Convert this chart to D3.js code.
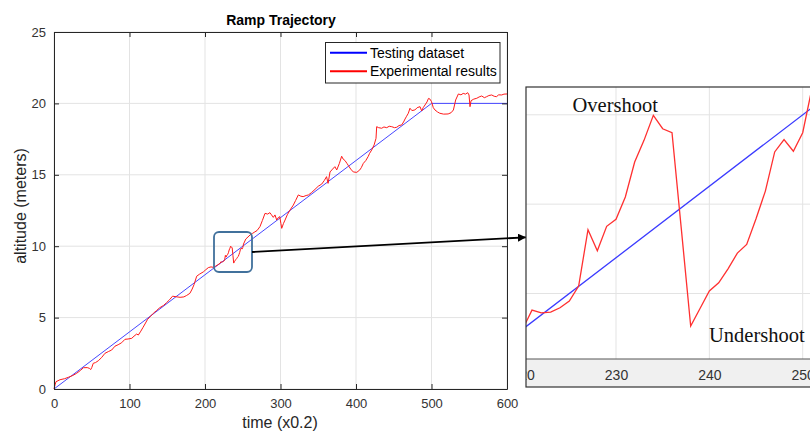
<!DOCTYPE html>
<html>
<head>
<meta charset="utf-8">
<script src="https://cdn.jsdelivr.net/npm/d3@7"></script>
<style>
  body { margin: 0; background: #fff; }
  svg { display: block; font-family: "Liberation Sans", Arial, sans-serif; }
</style>
</head>
<body>
<script>
const width = 810;
const height = 433;

// testing dataset (ramp reference)
const testTime = [0, 500, 600];
const testAlt = [0, 20, 20];

const expTime = [0, 1.5, 2.6, 8, 14, 19, 25, 30, 35, 39, 44, 46.8, 48.6, 50, 52, 55, 58.7, 63, 67.5, 72, 76.4, 80.8, 85, 89.6, 94, 98,
  103, 106, 109.5, 111.7, 115, 118, 124, 128, 131.5, 136, 140, 145, 149, 153, 157, 161.6, 167, 172, 175.7, 180, 183, 185.4, 189, 193,
  197.8, 201, 204.4, 208, 211, 214, 217,
  220, 221, 222, 223, 224, 225, 226, 227, 228, 229, 230, 231, 232, 233, 234, 235, 236, 237, 238, 239, 240, 241, 242, 243, 244, 245,
  246, 247, 248, 249, 250, 251,
  254, 259.6, 263, 266, 269, 272.8, 276, 279.5, 283, 286, 288, 290.5, 292.7, 295, 297, 299, 300.5, 301.6, 304, 306, 309, 312.6, 317,
  320, 323.6, 327, 330, 334, 337, 341, 345.7, 350, 354.6, 358, 361, 363, 365.6, 369, 372, 374.5, 378, 381, 383, 385.4, 388, 390, 393,
  396.4, 401, 405, 407, 409.7, 413, 416, 418, 420.8, 424, 426.5, 427.4, 430, 434, 437, 440.7, 444, 447.3, 451, 454, 457, 460.5, 463,
  465, 467, 469.3, 471.5, 474, 478, 481, 484.8, 487, 489, 491.4, 494, 496, 498, 500, 502.4, 504.6, 508, 511, 516, 522, 526, 529, 532,
  535.6, 539, 542, 545, 548, 549.7, 551, 552.4, 556, 560, 563, 566.5, 570, 573, 576, 579.7, 583, 586, 589, 593, 596, 600];
const expAlt = [0, 0.3, 0.51, 0.65, 0.72, 0.82, 0.95, 1.1, 1.3, 1.49, 1.5, 1.45, 1.36, 1.5, 1.8, 1.85, 1.98, 2.2, 2.5, 2.62, 2.73, 3.0, 3.1, 3.24, 3.48, 3.5,
  3.55, 3.7, 3.85, 3.78, 4.05, 4.32, 4.88, 5.1, 5.3, 5.5, 5.69, 5.85, 6.04, 6.25, 6.5, 6.46, 6.42, 6.45, 6.55, 6.7, 7.0, 7.3, 7.9, 8.05,
  8.2, 8.35, 8.5, 8.55, 8.52, 8.6, 8.7,
  8.8, 8.907, 8.892, 8.896, 8.92, 8.958, 9.042, 9.357, 9.239, 9.376, 9.415, 9.54, 9.736, 9.857, 9.997, 9.922, 9.9, 9.36, 8.818, 8.916, 9.014, 9.06, 9.138, 9.226, 9.275, 9.418,
  9.573, 9.792, 9.861, 9.796, 9.9, 10.15,
  10.5, 10.78, 10.9, 11.0, 11.1, 11.37, 11.8, 12.3, 12.25, 12.35, 12.2, 12.02, 12.19, 11.83, 12.0, 12.07, 11.6, 11.25, 11.6, 11.83, 12.2, 12.53, 12.88,
  13.2, 13.59, 13.5, 13.47, 13.55, 13.59, 13.75, 13.98, 14.2, 14.35, 14.6, 14.87, 14.4, 15.2, 15.4, 15.57, 15.34, 15.8, 16.3, 16.1, 16.0, 15.8, 15.64, 15.4,
  15.2, 15.17, 15.34, 15.5, 15.8, 16.0, 16.27, 16.5, 16.74, 17.09, 17.55, 18.37, 18.3, 18.26, 18.35, 18.3, 18.4, 18.37, 18.3, 18.33, 18.45, 18.49, 18.7,
  18.91, 19.1, 19.31, 19.66, 19.5, 19.54, 19.7, 19.77, 19.47, 19.7, 19.89, 20.1, 20.35, 20.3, 20.12, 19.7, 19.54, 19.4, 19.31, 19.25, 19.26, 19.35, 19.54, 20.24,
  20.66, 20.6, 20.7, 20.65, 20.75, 20.59, 19.77, 20.19, 20.3, 20.36, 20.45, 20.52, 20.4, 20.47, 20.55, 20.59, 20.5, 20.47, 20.6, 20.59, 20.65, 20.66];

const xTicks = [0, 100, 200, 300, 400, 500, 600];
const yTicks = [0, 5, 10, 15, 20, 25];
const insetXTicks = [220, 230, 240, 250];
const insetYTicks = [9, 9.5, 10];
const legendLabels = ['Testing dataset', 'Experimental results'];

const testData = testTime.map((t, i) => [t, testAlt[i]]);
const expData = expTime.map((t, i) => [t, expAlt[i]]);

const svg = d3.select('body').append('svg').attr('width', width).attr('height', height);

// ---------- main plot ----------
const x = d3.scaleLinear().domain([0, 600]).range([54, 507]);
const y = d3.scaleLinear().domain([0, 25]).range([389, 32]);
const axisColor = '#262626';
const gridColor = '#e3e3e3';

const g = svg.append('g');

g.selectAll('.vgrid').data(xTicks).enter().append('line')
  .attr('x1', d => x(d)).attr('x2', d => x(d))
  .attr('y1', y(0)).attr('y2', y(25))
  .attr('stroke', gridColor);
g.selectAll('.hgrid').data(yTicks).enter().append('line')
  .attr('x1', x(0)).attr('x2', x(600))
  .attr('y1', d => y(d)).attr('y2', d => y(d))
  .attr('stroke', gridColor);

const line = d3.line().x(d => x(d[0])).y(d => y(d[1]));

g.append('path').datum(testData)
  .attr('d', line).attr('fill', 'none')
  .attr('stroke', '#4747ff').attr('stroke-width', 1);
g.append('path').datum(expData)
  .attr('d', line).attr('fill', 'none')
  .attr('stroke', '#ff1a1a').attr('stroke-width', 1);

// axes, ticks inside, box on
const xAxis = d3.axisBottom(x).tickValues(xTicks).tickSizeInner(-5).tickSizeOuter(0).tickPadding(10);
const yAxis = d3.axisLeft(y).tickValues(yTicks).tickSizeInner(-5).tickSizeOuter(0).tickPadding(8);
const xTop = d3.axisTop(x).tickValues(xTicks).tickSizeInner(-5).tickSizeOuter(0).tickFormat('');
const yRight = d3.axisRight(y).tickValues(yTicks).tickSizeInner(-5).tickSizeOuter(0).tickFormat('');

g.append('g').attr('transform', `translate(0,${y(0)})`).call(xAxis);
g.append('g').attr('transform', `translate(${x(0)},0)`).call(yAxis);
g.append('g').attr('transform', `translate(0,${y(25)})`).call(xTop);
g.append('g').attr('transform', `translate(${x(600)},0)`).call(yRight);

g.selectAll('.domain, .tick line').attr('stroke', axisColor);
g.selectAll('.tick text').attr('fill', '#333').style('font-size', '13px')
  .style('font-family', '"Liberation Sans", Arial, sans-serif');

// title and labels
svg.append('text').attr('x', 281).attr('y', 25)
  .attr('text-anchor', 'middle').style('font-weight', 'bold').style('font-size', '14px')
  .attr('fill', '#000').text('Ramp Trajectory');
svg.append('text').attr('x', 280).attr('y', 428)
  .attr('text-anchor', 'middle').style('font-size', '16px').attr('fill', '#262626')
  .text('time (x0.2)');
svg.append('text').attr('transform', 'translate(26,206) rotate(-90)')
  .attr('text-anchor', 'middle').style('font-size', '16px').attr('fill', '#262626')
  .text('altitude (meters)');

// legend
const legend = svg.append('g');
legend.append('rect').attr('x', 325.5).attr('y', 42.5).attr('width', 174.5).attr('height', 40.5)
  .attr('fill', '#fff').attr('stroke', axisColor).attr('stroke-width', 1);
const legendColors = ['#0000ff', '#ff0000'];
legendLabels.forEach((lab, i) => {
  const ly = 52.7 + i * 18.6;
  legend.append('line').attr('x1', 330).attr('x2', 367).attr('y1', ly).attr('y2', ly)
    .attr('stroke', legendColors[i]).attr('stroke-width', 2);
  legend.append('text').attr('x', 370).attr('y', ly).attr('dy', '0.35em')
    .style('font-size', '14px').attr('fill', '#000').text(lab);
});

// highlight box and arrow
svg.append('rect').attr('x', 214).attr('y', 232).attr('width', 38).attr('height', 40)
  .attr('rx', 5).attr('fill', 'none').attr('stroke', '#41719c').attr('stroke-width', 1.8);

const defs = svg.append('defs');
defs.append('marker').attr('id', 'arrow').attr('viewBox', '0 0 10 10')
  .attr('refX', 10).attr('refY', 5).attr('markerWidth', 4.5).attr('markerHeight', 4.5)
  .attr('markerUnits', 'strokeWidth').attr('orient', 'auto')
  .append('path').attr('d', 'M0,0 L10,5 L0,10 Z').attr('fill', '#000');
svg.append('line').attr('x1', 252).attr('y1', 252).attr('x2', 526).attr('y2', 237.3)
  .attr('stroke', '#000').attr('stroke-width', 1.8).attr('marker-end', 'url(#arrow)');

// ---------- inset (zoom on t = 220..251) ----------
const xi = d3.scaleLinear().domain([230, 250]).range([616, 802.7]);
const yi = d3.scaleLinear().domain([9, 10]).range([293.5, 114.8]);
const ix0 = 526, ix1 = 812, iy0 = 87, iy1 = 359, iband = 387;

const inset = svg.append('g');
inset.append('rect').attr('x', ix0).attr('y', iy0).attr('width', ix1 - ix0).attr('height', iband - iy0)
  .attr('fill', '#fff');
inset.append('rect').attr('x', ix0).attr('y', iy1).attr('width', ix1 - ix0).attr('height', iband - iy1)
  .attr('fill', '#f0f0f0');

defs.append('clipPath').attr('id', 'insetClip')
  .append('rect').attr('x', ix0).attr('y', iy0).attr('width', ix1 - ix0).attr('height', iy1 - iy0);
defs.append('clipPath').attr('id', 'bandClip')
  .append('rect').attr('x', ix0).attr('y', iy1).attr('width', ix1 - ix0).attr('height', iband - iy1);

const plotArea = inset.append('g').attr('clip-path', 'url(#insetClip)');
plotArea.selectAll('.ivgrid').data(insetXTicks).enter().append('line')
  .attr('x1', d => xi(d)).attr('x2', d => xi(d)).attr('y1', iy0).attr('y2', iy1)
  .attr('stroke', gridColor);
plotArea.selectAll('.ihgrid').data(insetYTicks).enter().append('line')
  .attr('x1', ix0).attr('x2', ix1).attr('y1', d => yi(d)).attr('y2', d => yi(d))
  .attr('stroke', gridColor);

const iline = d3.line().x(d => xi(d[0])).y(d => yi(d[1]));
plotArea.append('path').datum(testData).attr('d', iline).attr('fill', 'none')
  .attr('stroke', '#3b3bff').attr('stroke-width', 1.3);
plotArea.append('path').datum(expData.filter(d => d[0] >= 214 && d[0] <= 260)).attr('d', iline)
  .attr('fill', 'none').attr('stroke', '#ff3030').attr('stroke-width', 1.3);

// inset axis in grey band
const iAxis = d3.axisBottom(xi).tickValues(insetXTicks).tickSizeInner(-6).tickSizeOuter(0).tickPadding(11);
const giAxis = inset.append('g').attr('clip-path', 'url(#bandClip)')
  .append('g').attr('transform', `translate(0,${iy1})`).call(iAxis);
giAxis.select('.domain').remove();
giAxis.selectAll('.tick line').attr('stroke', '#444');
giAxis.selectAll('.tick text').attr('fill', '#333').style('font-size', '14px')
  .style('font-family', '"Liberation Sans", Arial, sans-serif');

inset.append('line').attr('x1', ix0).attr('x2', ix1).attr('y1', iy1).attr('y2', iy1)
  .attr('stroke', '#555');
inset.append('rect').attr('x', ix0).attr('y', iy0).attr('width', ix1 - ix0).attr('height', iband - iy0)
  .attr('fill', 'none').attr('stroke', '#333').attr('stroke-width', 1.2);

inset.append('text').attr('x', 572.5).attr('y', 112)
  .style('font-family', '"Liberation Serif", "DejaVu Serif", serif').style('font-size', '20.5px')
  .attr('fill', '#111').text('Overshoot');
inset.append('text').attr('x', 709).attr('y', 341.5)
  .style('font-family', '"Liberation Serif", "DejaVu Serif", serif').style('font-size', '20.5px')
  .attr('fill', '#111').text('Undershoot');
</script>
</body>
</html>
